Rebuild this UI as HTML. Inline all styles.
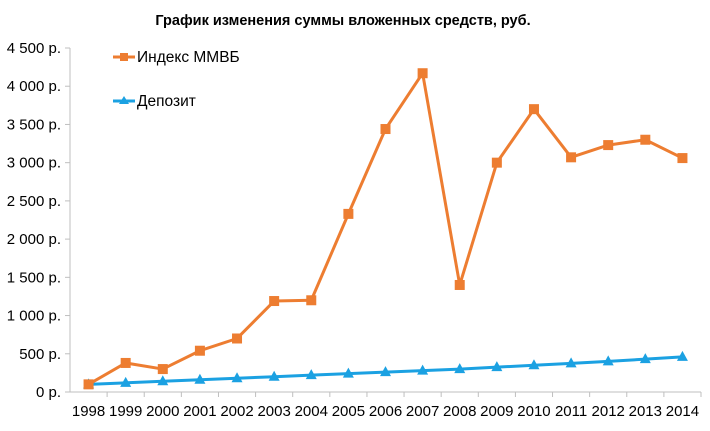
<!DOCTYPE html>
<html><head><meta charset="utf-8"><style>
body{margin:0;background:#fff;font-family:"Liberation Sans",sans-serif;}
svg text{font-family:"Liberation Sans",sans-serif;fill:#000;}
</style></head><body>
<svg width="710" height="426">
<text x="343" y="25" text-anchor="middle" font-size="14.5" font-weight="bold">График изменения суммы вложенных средств, руб.</text>
<g id="axes"></g><g id="series"></g>
<g>
<line x1="113" y1="57" x2="135" y2="57" stroke="#ed7d31" stroke-width="3"/>
<rect x="120" y="53" width="8" height="8" fill="#ed7d31"/>
<text x="137" y="62" font-size="15.5">Индекс ММВБ</text>
<line x1="113" y1="101" x2="135" y2="101" stroke="#1ba1e2" stroke-width="3"/>
<polygon points="124,96 129,104 119,104" fill="#1ba1e2"/>
<text x="137" y="106" font-size="15.5">Депозит</text>
</g>
</svg>
<script>
const years=["1998","1999","2000","2001","2002","2003","2004","2005","2006","2007","2008","2009","2010","2011","2012","2013","2014"];
const indexValues=[100,380,300,540,700,1190,1200,2330,3440,4170,1400,3000,3700,3070,3230,3300,3060];
const depositValues=[100,120,140,160,180,200,220,240,260,280,300,325,350,375,400,430,460];
const yTicks=[0,500,1000,1500,2000,2500,3000,3500,4000,4500];
const yTickLabels=["0 р.","500 р.","1 000 р.","1 500 р.","2 000 р.","2 500 р.","3 000 р.","3 500 р.","4 000 р.","4 500 р."];
const NS="http://www.w3.org/2000/svg";
const X0=70,X1=701,Y0=392,Y1=48,MAX=4500;
const step=(X1-X0)/years.length;
function xs(i){return X0+step*(i+0.5);}
function ys(v){return Y0-(v/MAX)*(Y0-Y1);}
function mk(t,a,p){const e=document.createElementNS(NS,t);for(const k in a)e.setAttribute(k,a[k]);p.appendChild(e);return e;}
const ax=document.getElementById('axes'),se=document.getElementById('series');
const yl=mk('line',{x1:X0,y1:Y1,x2:X0,y2:Y0,stroke:'#bfbfbf'},ax);


const xl=mk('line',{x1:X0,y1:Y0,x2:X1,y2:Y0,stroke:'#bfbfbf'},ax);


yTicks.forEach((v,i)=>{
  mk('line',{x1:X0-5,y1:ys(v),x2:X0,y2:ys(v),stroke:'#bfbfbf'},ax);
  const t=mk('text',{x:X0-9,y:ys(v)+5,'text-anchor':'end','font-size':'15'},ax);
  t.textContent=yTickLabels[i];
  
  
});
years.forEach((y,i)=>{
  mk('line',{x1:X0+step*(i+1),y1:Y0,x2:X0+step*(i+1),y2:Y0+5,stroke:'#bfbfbf'},ax);
  const t=mk('text',{x:xs(i),y:Y0+24,'text-anchor':'middle','font-size':'15'},ax);
  t.textContent=y;
  
  
});
function series(vals,color,name,shape){
  const pl=mk('polyline',{points:vals.map((v,i)=>xs(i)+','+ys(v)).join(' '),fill:'none',stroke:color,'stroke-width':3,'stroke-linejoin':'round'},se);
  
  
  vals.forEach((v,i)=>{
    const x=xs(i),y=ys(v);let m;
    if(shape==='sq')m=mk('rect',{x:x-5,y:y-5,width:10,height:10,fill:color},se);
    else m=mk('polygon',{points:`${x},${y-6} ${x+5.5},${y+4} ${x-5.5},${y+4}`,fill:color},se);
    
    
  });
}
series(depositValues,'#1ba1e2','deposit','tri');
series(indexValues,'#ed7d31','index','sq');
</script>
</body></html>
